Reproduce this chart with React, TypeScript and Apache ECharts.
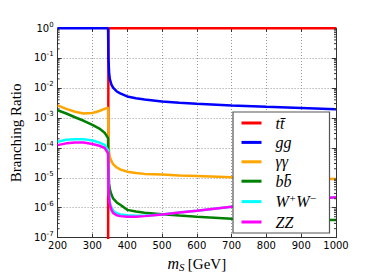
import React, { useEffect, useRef } from "react";
import * as echarts from "echarts";

const massGeV = [200, 225, 250, 275, 300, 320, 335, 345, 346, 348, 350, 355, 360, 370, 380, 400, 425, 450, 500, 550, 600, 700, 800, 900, 1000];
const brTT = [null, null, null, null, null, null, null, 1e-9, 0.9, 0.965, 0.975, 0.982, 0.985, 0.987, 0.988, 0.989, 0.99, 0.99, 0.99, 0.99, 0.99, 0.99, 0.99, 0.99, 0.99];
const brGG = [0.99, 0.99, 0.99, 0.99, 0.99, 0.99, 0.99, 0.99, 0.1, 3.2e-2, 2.0e-2, 1.25e-2, 1.0e-2, 7.6e-3, 6.6e-3, 5.2e-3, 4.5e-3, 4.1e-3, 3.55e-3, 3.2e-3, 2.95e-3, 2.6e-3, 2.35e-3, 2.15e-3, 1.95e-3];
const brAA = [2.6e-3, 2.0e-3, 1.6e-3, 1.4e-3, 1.45e-3, 1.7e-3, 2.0e-3, 2.2e-3, 2.2e-4, 7.0e-5, 5.0e-5, 3.5e-5, 2.8e-5, 2.2e-5, 1.9e-5, 1.6e-5, 1.45e-5, 1.35e-5, 1.28e-5, 1.2e-5, 1.15e-5, 1.05e-5, 1.0e-5, 9.5e-6, 9.1e-6];
const brBB = [1.8e-3, 1.4e-3, 1.05e-3, 8.0e-4, 5.8e-4, 4.4e-4, 3.2e-4, 2.1e-4, 2.1e-5, 6.5e-6, 4.2e-6, 2.7e-6, 2.0e-6, 1.5e-6, 1.25e-6, 8.5e-7, 7.5e-7, 6.8e-7, 6.1e-7, 5.5e-7, 5.0e-7, 4.3e-7, 4.1e-7, 4.0e-7, 3.9e-7];
const brWW = [1.6e-4, 1.85e-4, 1.95e-4, 1.95e-4, 1.75e-4, 1.5e-4, 1.25e-4, 8.3e-5, 8.3e-6, 2.5e-6, 1.5e-6, 1.0e-6, 8.0e-7, 6.6e-7, 6.0e-7, 5.6e-7, 5.4e-7, 5.4e-7, 6.0e-7, 6.9e-7, 7.9e-7, 1.07e-6, 1.41e-6, 1.78e-6, 2.24e-6];
const brZZ = [1.23e-4, 1.41e-4, 1.51e-4, 1.51e-4, 1.35e-4, 1.17e-4, 1.0e-4, 6.6e-5, 6.6e-6, 2.0e-6, 1.26e-6, 8.3e-7, 6.6e-7, 5.6e-7, 5.25e-7, 5.0e-7, 5.0e-7, 5.25e-7, 6.0e-7, 6.9e-7, 7.9e-7, 1.07e-6, 1.41e-6, 1.78e-6, 2.24e-6];

const seriesNames = ["tt", "gg", "aa", "bb", "WW", "ZZ"];
const seriesLabels = ["{n|tt\u0304}", "{n|gg}", "{n|\u03b3\u03b3}", "{n|bb\u0304}", "{n|W}{s|+}{n|W}{s|\u2212}", "{n|ZZ}"];
const seriesColors = ["#ff0000", "#0000ff", "#ffa500", "#008000", "#00ffff", "#ff00ff"];
const seriesValues = [brTT, brGG, brAA, brBB, brWW, brZZ];

const xTicks = [200, 300, 400, 500, 600, 700, 800, 900, 1000];
const yDecades = [1e-7, 1e-6, 1e-5, 1e-4, 1e-3, 1e-2, 1e-1, 1];
const minorMultipliers = [2, 3, 4, 5, 6, 7, 8, 9];

const X_MIN = xTicks[0];
const X_MAX = xTicks[xTicks.length - 1];

const minorTickValues: number[] = [];
for (let d = 0; d < yDecades.length - 1; d++) {
  for (const m of minorMultipliers) minorTickValues.push(m * yDecades[d]);
}

const FRAME = "#333";

export default function App() {
  const ref = useRef<HTMLDivElement>(null);
  useEffect(() => {
    if (!ref.current) return;
    const chart = echarts.init(ref.current, null, { renderer: "svg" });
    const lineSeries = seriesNames.map((name, k) => ({
      name,
      type: "line",
      data: massGeV
        .map((x, i) => [x, seriesValues[k][i]])
        .filter((p) => p[1] !== null),
      symbol: "none",
      showSymbol: false,
      clip: true,
      lineStyle: { width: 2.5, color: seriesColors[k] },
      itemStyle: { color: seriesColors[k] },
      z: 2,
    }));
    const option: any = {
      animation: false,
      backgroundColor: "#ffffff",
      grid: { left: 56, right: 38, top: 28, bottom: 42.3, containLabel: false },
      xAxis: [
        {
          type: "value",
          min: X_MIN,
          max: X_MAX,
          interval: 100,
          name: "{i|m}{s|S} {r|[GeV]}",
          nameLocation: "middle",
          nameGap: 12,
          nameTextStyle: {
            rich: {
              i: { fontFamily: "Liberation Serif", fontStyle: "italic", fontSize: 16, color: "#000" },
              s: { fontFamily: "Liberation Serif", fontStyle: "italic", fontSize: 11, color: "#000", padding: [6, 0, 0, 0] },
              r: { fontFamily: "Liberation Serif", fontSize: 15, color: "#000" },
            },
          },
          axisLine: { show: true, onZero: false, lineStyle: { color: FRAME, width: 1 } },
          axisTick: { show: true, inside: true, length: 4, lineStyle: { color: FRAME } },
          axisLabel: { margin: 3, fontFamily: "DejaVu Sans", fontSize: 10, color: "#000", formatter: (v: number) => String(v) },
          splitLine: { show: true, lineStyle: { color: "#999", type: [1, 2], width: 1 } },
        },
        {
          type: "value",
          position: "top",
          min: X_MIN,
          max: X_MAX,
          interval: 100,
          axisLine: { show: true, onZero: false, lineStyle: { color: FRAME, width: 1 } },
          axisTick: { show: true, inside: true, length: 4, lineStyle: { color: FRAME } },
          axisLabel: { show: false },
          splitLine: { show: false },
        },
      ],
      yAxis: [
        {
          type: "log",
          logBase: 10,
          min: 1e-7,
          max: 1,
          name: "Branching Ratio",
          nameLocation: "middle",
          nameGap: 25,
          nameRotate: 90,
          nameTextStyle: { fontFamily: "Liberation Serif", fontSize: 15, color: "#000" },
          axisLine: { show: true, onZero: false, lineStyle: { color: FRAME, width: 1 } },
          axisTick: { show: true, inside: true, length: 4, lineStyle: { color: FRAME } },
          axisLabel: {
            margin: 4,
            formatter: (v: number) => `{b|10}{e|${Math.round(Math.log10(v))}}`,
            rich: {
              b: { fontFamily: "DejaVu Sans", fontSize: 10, color: "#000" },
              e: { fontFamily: "DejaVu Sans", fontSize: 7, color: "#000", padding: [0, 0, 7, 0] },
            },
          },
          splitLine: { show: true, lineStyle: { color: "#999", type: [1, 2], width: 1 } },
        },
        {
          type: "log",
          logBase: 10,
          min: 1e-7,
          max: 1,
          position: "right",
          axisLine: { show: true, onZero: false, lineStyle: { color: FRAME, width: 1 } },
          axisTick: { show: true, inside: true, length: 4, lineStyle: { color: FRAME } },
          axisLabel: { show: false },
          splitLine: { show: false },
        },
      ],
      legend: {
        data: seriesNames,
        orient: "vertical",
        left: 233,
        top: 112,
        z: 10,
        padding: [3, 4, 3, 8.5],
        itemGap: 3.4,
        itemWidth: 20,
        itemHeight: 3,
        icon: "rect",
        backgroundColor: "#ffffff",
        borderColor: "#555",
        borderWidth: 1.2,
        borderRadius: 0,
        selectedMode: false,
        formatter: (name: string) => seriesLabels[seriesNames.indexOf(name)],
        textStyle: {
          width: 50,
          padding: [0, 0, 0, 9],
          lineHeight: 16,
          rich: {
            n: { fontFamily: "Liberation Serif", fontStyle: "italic", fontSize: 16, color: "#000", lineHeight: 16 },
            s: { fontFamily: "Liberation Serif", fontStyle: "italic", fontSize: 11, color: "#000", lineHeight: 16, padding: [0, 0, 7, 0] },
          },
        },
      },
      series: [
        ...lineSeries,
        {
          type: "custom",
          name: "minorTicks",
          silent: true,
          z: 3,
          data: minorTickValues.map((v) => [X_MIN, v]),
          renderItem: (params: any, api: any) => {
            const v = api.value(1);
            const l = api.coord([X_MIN, v]);
            const r = api.coord([X_MAX, v]);
            return {
              type: "group",
              children: [
                { type: "line", shape: { x1: l[0], y1: l[1], x2: l[0] + 2, y2: l[1] }, style: { stroke: FRAME, lineWidth: 1 } },
                { type: "line", shape: { x1: r[0] - 2, y1: r[1], x2: r[0], y2: r[1] }, style: { stroke: FRAME, lineWidth: 1 } },
              ],
            };
          },
        },
      ],
    };
    chart.setOption(option);
    return () => chart.dispose();
  }, []);
  return <div ref={ref} style={{ width: 374, height: 280, margin: -8 }} />;
}
